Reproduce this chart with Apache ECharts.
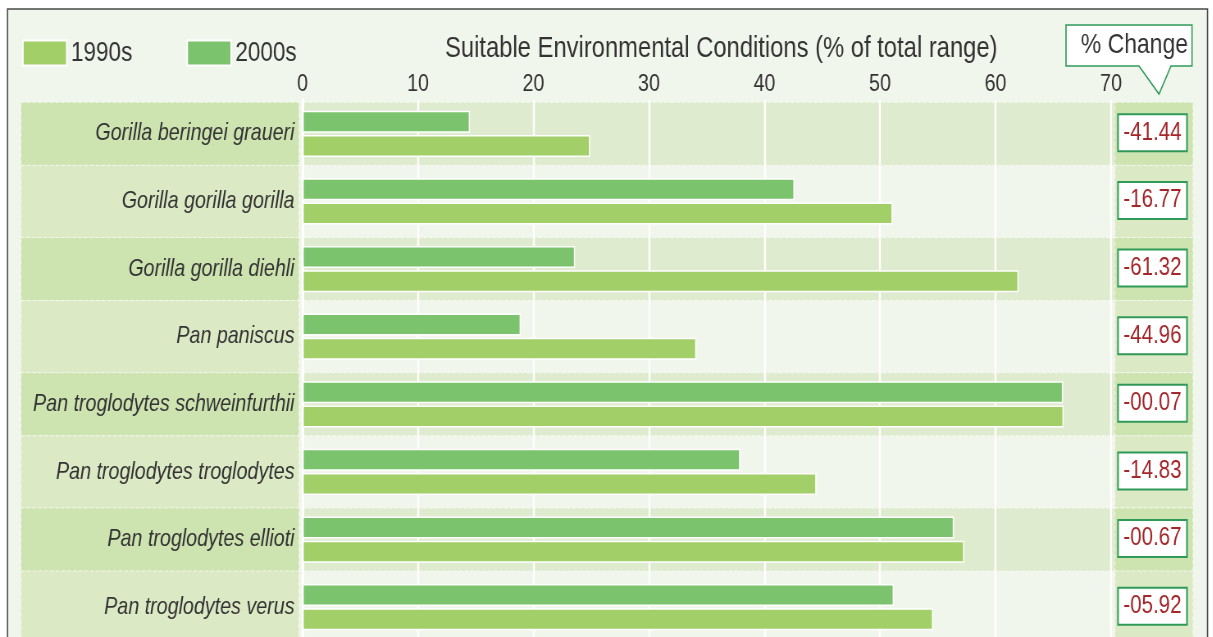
<!DOCTYPE html>
<html>
<head>
<meta charset="utf-8">
<script src="https://cdn.jsdelivr.net/npm/echarts@6/dist/echarts.min.js"></script>
<style>
  html, body { margin: 0; padding: 0; background: #ffffff; overflow: hidden; }
  /* The chart is laid out wide and squeezed horizontally so the lettering
     takes the tall, condensed proportion of the printed figure. */
  #chart { width: 1479px; height: 637px; transform: scale(0.82, 1); transform-origin: 0 0; }
</style>
</head>
<body>
<div id="chart"></div>
<script>
// Species (top to bottom)
const categories = [
  'Gorilla beringei graueri',
  'Gorilla gorilla gorilla',
  'Gorilla gorilla diehli',
  'Pan paniscus',
  'Pan troglodytes schweinfurthii',
  'Pan troglodytes troglodytes',
  'Pan troglodytes ellioti',
  'Pan troglodytes verus'
];

// Suitable environmental conditions, % of total range
const values1990s = [24.9, 51.1, 62.0, 34.1, 65.9, 44.5, 57.3, 54.6];
const values2000s = [14.5, 42.6, 23.6, 18.9, 65.85, 37.9, 56.4, 51.2];

// % change column
const pctChange = ['-41.44', '-16.77', '-61.32', '-44.96', '-00.07', '-14.83', '-00.67', '-05.92'];

// value axis ticks
const axisMin = 0;
const axisMax = 70;
const axisStep = 10;

// horizontal squeeze applied to the whole canvas (see CSS); sx() turns an
// on-screen x distance into canvas units
const SQUEEZE = 0.82;
const sx = v => v / SQUEEZE;

const FONT = "'Liberation Sans', Arial, Helvetica, sans-serif";
const COLORS = {
  page: '#f1f6ec',
  frame: '#4a4a4a',
  cellDark: '#cde3b0',
  cellLight: '#dce9c5',
  plotBand: '#dfebce',
  bar1990: '#a2cf67',
  bar2000: '#7bc46d',
  boxLine: '#2f9a58',
  red: '#a3262a',
  text: '#333333',
  dash: 'rgba(255,255,255,0.65)'
};

const LABEL_COL = { x: sx(21), w: sx(278) };
const RIGHT_COL = { x: sx(1115), w: sx(78) };
const PLOT_BAND = { x: sx(303), right: sx(1192) };
const VALUE_BOX = { x: sx(1118), w: sx(69), h: 37 };
const HALF_ROW = 31.5;

// Row backgrounds, side cells and the % change boxes, one group per species
function renderRow(params, api) {
  const i = api.value(1);
  const cy = api.coord([0, i])[1];
  const band = api.size([0, 1])[1];
  const strong = i % 2 === 0;
  const y0 = strong ? cy - HALF_ROW : cy - band + HALF_ROW;
  const h = strong ? 2 * HALF_ROW : 2 * (band - HALF_ROW);
  const cellFill = strong ? COLORS.cellDark : COLORS.cellLight;
  const dashed = { stroke: COLORS.dash, lineWidth: 1, lineDash: [4, 3] };
  const children = [
    { type: 'rect', shape: { x: LABEL_COL.x, y: y0, width: LABEL_COL.w, height: h },
      style: Object.assign({ fill: cellFill }, dashed) }
  ];
  if (strong) {
    children.push({ type: 'rect',
      shape: { x: PLOT_BAND.x, y: y0, width: PLOT_BAND.right - PLOT_BAND.x, height: h },
      style: Object.assign({ fill: COLORS.plotBand }, dashed) });
  }
  children.push(
    { type: 'rect', shape: { x: RIGHT_COL.x, y: y0, width: RIGHT_COL.w, height: h },
      style: Object.assign({ fill: cellFill }, dashed) },
    { type: 'rect', shape: { x: VALUE_BOX.x, y: cy - VALUE_BOX.h / 2 - 1, width: VALUE_BOX.w, height: VALUE_BOX.h },
      style: { fill: '#ffffff', stroke: COLORS.boxLine, lineWidth: 2 } },
    { type: 'text', x: VALUE_BOX.x + VALUE_BOX.w / 2, y: cy - 1,
      style: { text: pctChange[i], fill: COLORS.red, font: '25px ' + FONT,
               align: 'center', verticalAlign: 'middle' } }
  );
  return { type: 'group', children: children };
}

const chart = echarts.init(document.getElementById('chart'), null, { renderer: 'canvas' });

chart.setOption({
  animation: false,
  backgroundColor: '#ffffff',
  title: {
    text: 'Suitable Environmental Conditions (% of total range)',
    left: sx(445), top: 34, padding: 0,
    textStyle: { fontFamily: FONT, fontSize: 29, fontWeight: 'normal', color: COLORS.text }
  },
  legend: {
    data: ['1990s', '2000s'],
    left: sx(22), top: 39, padding: 0,
    icon: 'rect', itemWidth: sx(44), itemHeight: 25, itemGap: sx(54),
    textStyle: { fontFamily: FONT, fontSize: 27.5, color: COLORS.text }
  },
  grid: {
    left: sx(302.5), top: 100, width: sx(808.5), height: 541,
    containLabel: false, outerBoundsMode: 'none'
  },
  xAxis: {
    type: 'value', position: 'top',
    min: axisMin, max: axisMax, interval: axisStep,
    axisLine: { show: false }, axisTick: { show: false },
    axisLabel: { fontFamily: FONT, fontSize: 24, color: COLORS.text, margin: 4 },
    splitLine: { show: true, lineStyle: { color: '#ffffff', width: sx(2) } }
  },
  yAxis: {
    type: 'category', inverse: true, data: categories,
    axisTick: { show: false },
    axisLine: { show: true, lineStyle: { color: '#ffffff', width: sx(2.5) } },
    axisLabel: { fontFamily: FONT, fontSize: 24, fontStyle: 'italic', color: COLORS.text, margin: sx(8) },
    splitLine: { show: false }
  },
  graphic: [
    { type: 'rect', z: -100, silent: true,
      shape: { x: sx(7.5), y: 9, width: sx(1200), height: 640 },
      style: { fill: COLORS.page, stroke: COLORS.frame, lineWidth: 1.6 } },
    { type: 'polygon', z: 100, silent: true,
      shape: { points: [[sx(1066), 25], [sx(1192), 25], [sx(1192), 66], [sx(1171), 66],
                        [sx(1159), 94], [sx(1139), 66], [sx(1066), 66]] },
      style: { fill: '#ffffff', stroke: COLORS.boxLine, lineWidth: 1.6 } },
    { type: 'text', z: 101, silent: true, x: sx(1188), y: 45,
      style: { text: '% Change', font: '28px ' + FONT, fill: COLORS.text, align: 'right', verticalAlign: 'middle' } }
  ],
  series: [
    {
      type: 'custom', name: 'rows', z: -1, silent: true, clip: false,
      renderItem: renderRow,
      encode: { x: 0, y: 1 },
      data: categories.map((c, i) => [0, i])
    },
    {
      name: '2000s', type: 'bar', data: values2000s,
      barWidth: 22, barGap: '10%',
      itemStyle: { color: COLORS.bar2000, borderColor: '#ffffff', borderWidth: 1.5 }
    },
    {
      name: '1990s', type: 'bar', data: values1990s,
      barWidth: 22, barGap: '10%',
      itemStyle: { color: COLORS.bar1990, borderColor: '#ffffff', borderWidth: 1.5 }
    }
  ]
});
</script>
</body>
</html>
